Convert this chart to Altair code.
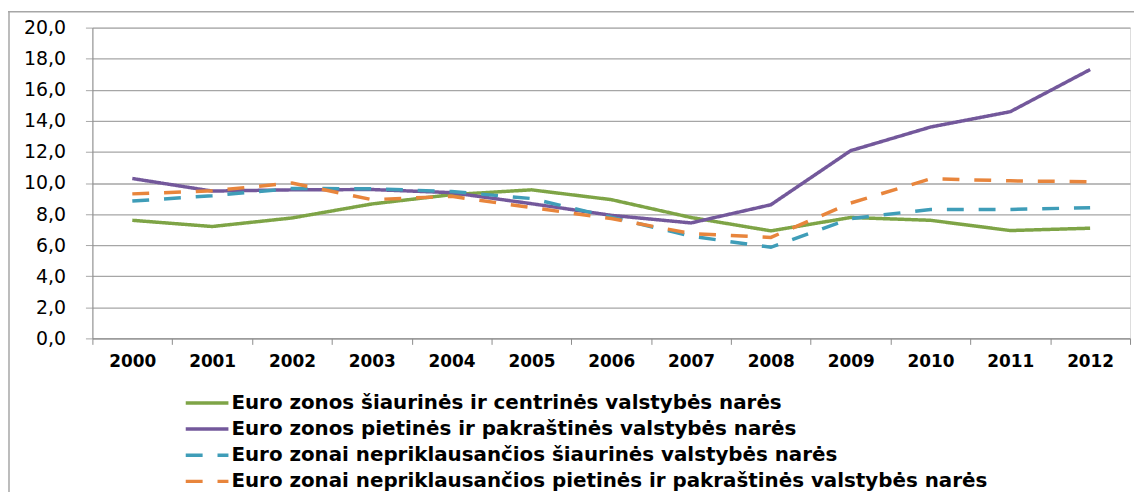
import altair as alt
import pandas as pd

years = [str(y) for y in range(2000, 2013)]
series_names = [
    "Euro zonos šiaurinės ir centrinės valstybės narės",
    "Euro zonos pietinės ir pakraštinės valstybės narės",
    "Euro zonai nepriklausančios šiaurinės valstybės narės",
    "Euro zonai nepriklausančios pietinės ir pakraštinės valstybės narės",
]
green = [7.6, 7.2, 7.75, 8.65, 9.25, 9.56, 8.93, 7.78, 6.92, 7.78, 7.6, 6.94, 7.09]
purple = [10.29, 9.48, 9.56, 9.58, 9.38, 8.67, 7.92, 7.43, 8.6, 12.08, 13.6, 14.59, 17.3]
teal = [8.84, 9.18, 9.65, 9.63, 9.45, 9.0, 7.8, 6.58, 5.86, 7.71, 8.3, 8.3, 8.41]
orange = [9.3, 9.5, 10.0, 8.93, 9.14, 8.42, 7.71, 6.75, 6.5, 8.71, 10.27, 10.14, 10.08]
colors = ["#7ea446", "#73589b", "#3f9db8", "#e8853c"]
dashes = [[1, 0], [1, 0], [17, 15], [17, 15]]

rows = []
for name, vals in zip(series_names, [green, purple, teal, orange]):
    for y, v in zip(years, vals):
        rows.append({"year": y, "value": v, "series": name})
df = pd.DataFrame(rows)
leg_df = pd.DataFrame({"series": series_names})

W, H = 1045, 313

color_enc = alt.Color("series:N", sort=series_names,
                      scale=alt.Scale(domain=series_names, range=colors), legend=None)
dash_enc = alt.StrokeDash("series:N", sort=series_names,
                          scale=alt.Scale(domain=series_names, range=dashes), legend=None)

frame_data = alt.Data(values=[{"k": 1}])
frame_top = alt.Chart(frame_data).mark_rule(color="#a6a6a6", strokeWidth=1.5).encode(
    x=alt.value(-85), x2=alt.value(W + 40), y=alt.value(-16)
)
frame_left = alt.Chart(frame_data).mark_rule(color="#a6a6a6", strokeWidth=1.5).encode(
    x=alt.value(-84), y=alt.value(-16), y2=alt.value(H + 300)
)

lines = alt.Chart(df).mark_line(strokeWidth=3.5).encode(
    x=alt.X("year:N", sort=years, title=None,
            scale=alt.Scale(paddingInner=0, paddingOuter=0),
            axis=alt.Axis(labelAngle=0, tickBand="extent", labelFont="DejaVu Sans",
                          labelFontWeight="bold", labelFontSize=17, labelColor="#000",
                          tickSize=6, labelPadding=9, domainColor="#8c8c8c",
                          tickColor="#8c8c8c", grid=False)),
    y=alt.Y("value:Q", title=None,
            scale=alt.Scale(domain=[0, 20], nice=False),
            axis=alt.Axis(values=list(range(0, 21, 2)),
                          labelExpr="replace(format(datum.value, '.1f'), '.', ',')",
                          labelFont="DejaVu Sans", labelFontSize=19, labelColor="#000",
                          tickSize=7, labelPadding=20, domainColor="#8c8c8c",
                          tickColor="#a6a6a6", gridColor="#a6a6a6", gridWidth=1.3)),
    color=color_enc,
    strokeDash=dash_enc,
)

leg_y = alt.Y("series:N", sort=series_names,
              scale=alt.Scale(type="point", domain=series_names, range=[378, 457], padding=0),
              axis=None)

legend_rules = alt.Chart(leg_df).mark_rule(strokeWidth=3.5).encode(
    x=alt.value(94), x2=alt.value(137), y=leg_y, color=color_enc, strokeDash=dash_enc,
)
legend_text = alt.Chart(leg_df).mark_text(
    align="left", baseline="middle", font="DejaVu Sans", fontWeight="bold",
    fontSize=20, color="#000"
).encode(x=alt.value(140), y=leg_y, text="series:N")

chart = alt.layer(frame_top, frame_left, lines, legend_rules, legend_text).resolve_scale(
    y="independent"
).properties(
    width=W, height=H,
    autosize=alt.AutoSizeParams(type="none"),
    padding={"left": 85, "top": 18, "right": 4, "bottom": 160},
).configure_view(stroke=None).configure(background="white")

chart.save("out.html", embed_options={"renderer": "svg", "actions": False})
